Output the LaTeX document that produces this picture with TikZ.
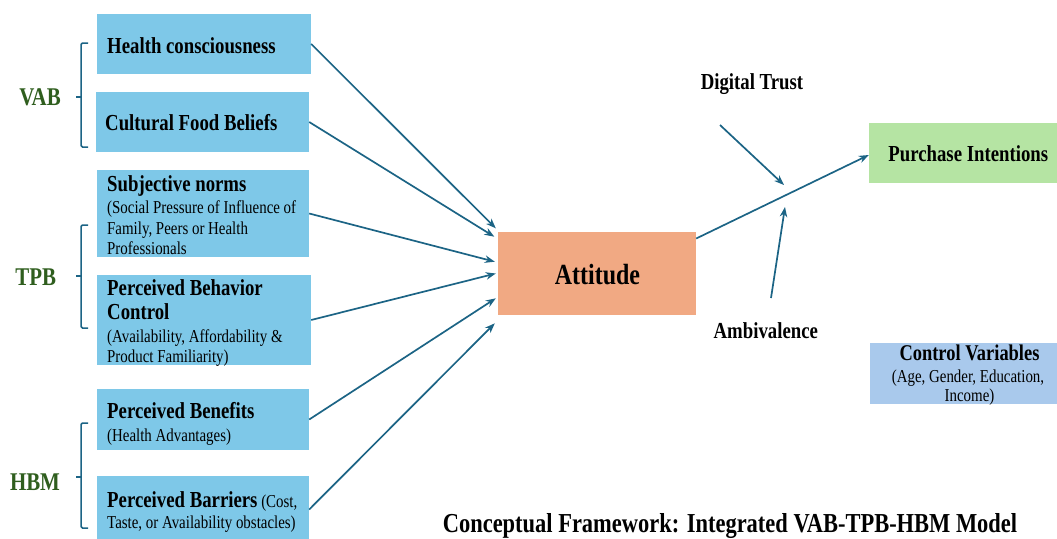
\documentclass[tikz,border=0pt]{standalone}
\usepackage{fontspec}
\setmainfont{Liberation Serif}[FakeStretch=0.82]
\usetikzlibrary{arrows.meta}

\definecolor{factorblue}{HTML}{7EC8E8}
\definecolor{attitudeorange}{HTML}{F1A983}
\definecolor{intentgreen}{HTML}{B5E4A3}
\definecolor{controlblue}{HTML}{A9C9EC}
\definecolor{linkblue}{HTML}{1C6485}
\definecolor{theorygreen}{HTML}{2F5E1E}

% bold first line of a construct box
\newcommand{\headtxt}[1]{{\bfseries\fontsize{22.9}{21.5}\selectfont #1}}

\begin{document}
\begin{tikzpicture}[x=1pt,y=-1pt,
  panel/.style={draw=none, inner sep=0pt},
  factor/.style={panel, fill=factorblue},
  factortext/.style={anchor=north west, inner sep=0pt, align=left,
    font=\fontsize{18.2}{21.5}\selectfont},
  boldtext/.style={anchor=base, inner sep=0pt,
    font=\bfseries\fontsize{22.9}{26}\selectfont},
  theory/.style={anchor=base, inner sep=0pt, text=theorygreen,
    font=\bfseries\fontsize{25.5}{28}\selectfont},
  link/.style={draw=linkblue, line width=1.7pt,
    -{Stealth[length=10pt,width=7.5pt]}},
  bracket/.style={draw=linkblue, line width=1.5pt, rounded corners=1.5pt}]

\useasboundingbox (0,0) rectangle (1057,538);
\clip (0,0) rectangle (1057,538);

% ---- construct boxes (left column) ----
\node[factor, minimum width=214pt, minimum height=60pt] (hc)   at (204,44)    {};
\node[factor, minimum width=213pt, minimum height=60pt] (cfb)  at (202.5,122) {};
\node[factor, minimum width=212pt, minimum height=87pt] (sn)   at (203,213.5) {};
\node[factor, minimum width=214pt, minimum height=90pt] (pbc)  at (204,320)   {};
\node[factor, minimum width=212pt, minimum height=61pt] (pben) at (203,419.5) {};
\node[factor, minimum width=212pt, minimum height=67pt] (pbar) at (203,509.5) {};

\node[factortext] (hc-t) at (107,37.5) {\headtxt{Health consciousness}};
\node[factortext] (cfb-t) at (105,114) {\headtxt{Cultural Food Beliefs}};
\node[factortext] (sn-t) at (107,175) {\headtxt{Subjective norms}\\[0.8pt]
  (Social Pressure of Influence of\\[-0.5pt]
  Family, Peers or Health\\[-1.5pt]
  Professionals};
\node[factortext] (pbc-t) at (107,279.5) {\headtxt{Perceived Behavior}\\[2.8pt]
  \headtxt{Control}\\[0.9pt]
  (Availability, Affordability \&\\[-1.5pt]
  Product Familiarity)};
\node[factortext] (pben-t) at (107,402) {\headtxt{Perceived Benefits}\\[1.2pt]
  (Health Advantages)};
\node[factortext] (pbar-t) at (107,491) {\headtxt{Perceived Barriers} (Cost,\\
  Taste, or Availability obstacles)};

% ---- theory brackets and labels ----
\draw[bracket] (88,43) -- (81,43) -- (81,147) -- (88,147);
\draw[bracket] (81,97) -- (76,97);
\draw[bracket] (88,225) -- (81,225) -- (81,328) -- (88,328);
\draw[bracket] (81,276) -- (76,276);
\draw[bracket] (88,423) -- (81,423) -- (81,528) -- (88,528);
\draw[bracket] (81,477) -- (76,477);

\node[theory] (vab) at (40,105) {VAB};
\node[theory] (tpb) at (35.8,285) {TPB};
\node[theory] (hbm) at (35,490) {HBM};

% ---- attitude, outcome and control ----
\node[panel, fill=attitudeorange, minimum width=198pt, minimum height=83pt] (att) at (597,273.5) {};
\node[anchor=base, inner sep=0pt, font=\bfseries\fontsize{29.2}{32}\selectfont] (att-t) at (597.5,284.3) {Attitude};

\node[panel, fill=intentgreen, minimum width=200pt, minimum height=60pt] (pi) at (969,153) {};
\node[boldtext] (pi-t) at (968.3,161.7) {Purchase Intentions};

\node[panel, fill=controlblue, minimum width=199pt, minimum height=61pt] (cv) at (969.5,373.5) {};
\node[boldtext, font=\bfseries\fontsize{22.5}{26}\selectfont] (cv-t) at (969.5,360.7) {Control Variables};
\node[anchor=base, inner sep=0pt, font=\fontsize{18.2}{21.5}\selectfont] (cv-t2) at (968,382.7) {(Age, Gender, Education,};
\node[anchor=base, inner sep=0pt, font=\fontsize{18.2}{21.5}\selectfont] (cv-t3) at (969.5,401.7) {Income)};

% ---- moderators ----
\node[boldtext] (dt) at (752,89.3) {Digital Trust};
\node[boldtext] (amb) at (765.8,338) {Ambivalence};
\coordinate (dt-from) at (720,125);
\coordinate (dt-to) at (784,185);
\coordinate (amb-from) at (771,298);
\coordinate (amb-to) at (785,207);

% ---- title ----
\node[anchor=base, inner sep=0pt, font=\bfseries\fontsize{27.4}{30}\selectfont] (title) at (730,532)
  {Conceptual Framework: Integrated VAB-TPB-HBM Model};

% ---- paths ----
\draw[link] (hc.east)   -- ([xshift=-2pt,yshift=45.2pt]att.west);
\draw[link] (cfb.east)  -- ([xshift=-3.5pt,yshift=36.8pt]att.west);
\draw[link] (sn.east)   -- ([xshift=-3pt,yshift=11.8pt]att.west);
\draw[link] (pbc.east)  -- ([xshift=-2pt,yshift=0pt]att.west);
\draw[link] (pben.east) -- ([xshift=-2pt,yshift=-24.8pt]att.west);
\draw[link] (pbar.east) -- ([xshift=-3pt,yshift=-49.8pt]att.west);
\draw[link] ([yshift=35pt]att.east) -- ([yshift=-2pt]pi.west);
\draw[link] (dt-from) -- (dt-to);
\draw[link] (amb-from) -- (amb-to);

\end{tikzpicture}
\end{document}
